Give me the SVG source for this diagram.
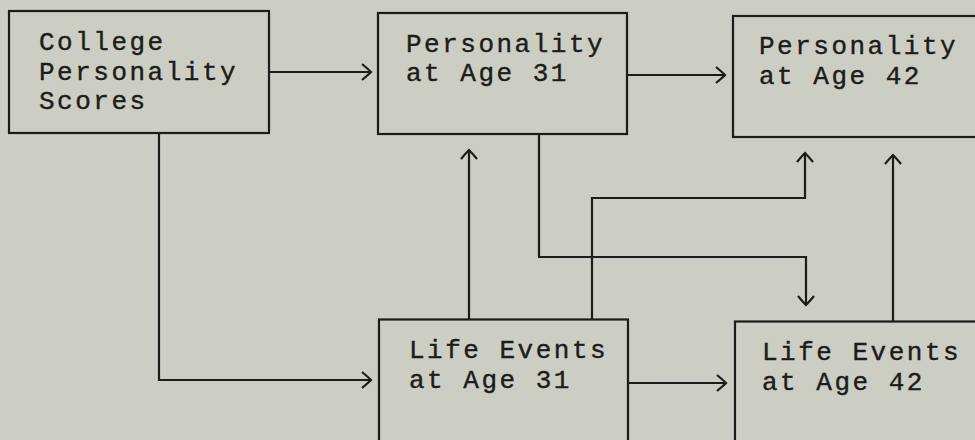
<svg xmlns="http://www.w3.org/2000/svg" width="975" height="440" viewBox="0 0 975 440">
<style>
.box{fill:none;stroke:#1c1c1a;stroke-width:2.2}
.lbl{font-family:"Liberation Mono","Courier New",monospace;font-size:26px;letter-spacing:2.5px;fill:#1c1c1a;stroke:#1c1c1a;stroke-width:0.4}
.con{fill:none;stroke:#1c1c1a;stroke-width:2.2}
</style>
<defs>
<marker id="arr" markerUnits="userSpaceOnUse" markerWidth="24" markerHeight="24" viewBox="-12 -12 24 24" refX="0" refY="0" orient="auto">
<path d="M-9,-8 Q-3,-3 0,0 Q-3,3 -9,8" fill="none" stroke="#1c1c1a" stroke-width="2.2"/>
</marker>
</defs>
<rect width="975" height="440" fill="#cdcec3"/>
<g id="college">
<rect class="box" x="9" y="11" width="260" height="122"/>
<text class="lbl" x="39" y="50">College</text>
<text class="lbl" x="39" y="80">Personality</text>
<text class="lbl" x="39" y="109">Scores</text>
</g>
<g id="pers31">
<rect class="box" x="378" y="13" width="249" height="121"/>
<text class="lbl" x="406" y="52">Personality</text>
<text class="lbl" x="406" y="81">at Age 31</text>
</g>
<g id="pers42">
<rect class="box" x="733" y="16" width="262" height="121"/>
<text class="lbl" x="759" y="54">Personality</text>
<text class="lbl" x="759" y="84">at Age 42</text>
</g>
<g id="life31">
<rect class="box" x="379" y="319.5" width="249" height="150"/>
<text class="lbl" x="409" y="358">Life Events</text>
<text class="lbl" x="409" y="388">at Age 31</text>
</g>
<g id="life42">
<rect class="box" x="735" y="321.5" width="262" height="150"/>
<text class="lbl" x="762" y="360">Life Events</text>
<text class="lbl" x="762" y="390">at Age 42</text>
</g>
<g id="connectors">
<path class="con" d="M269,72 H371" marker-end="url(#arr)"/>
<path class="con" d="M627,75 H725" marker-end="url(#arr)"/>
<path class="con" d="M159,133 V380 H371" marker-end="url(#arr)"/>
<path class="con" d="M628,383 H726" marker-end="url(#arr)"/>
<path class="con" d="M469,319 V150" marker-end="url(#arr)"/>
<path class="con" d="M539,134 V257 H806 V305" marker-end="url(#arr)"/>
<path class="con" d="M592,319 V198 H805 V153" marker-end="url(#arr)"/>
<path class="con" d="M893,322 V155" marker-end="url(#arr)"/>
</g>
</svg>
